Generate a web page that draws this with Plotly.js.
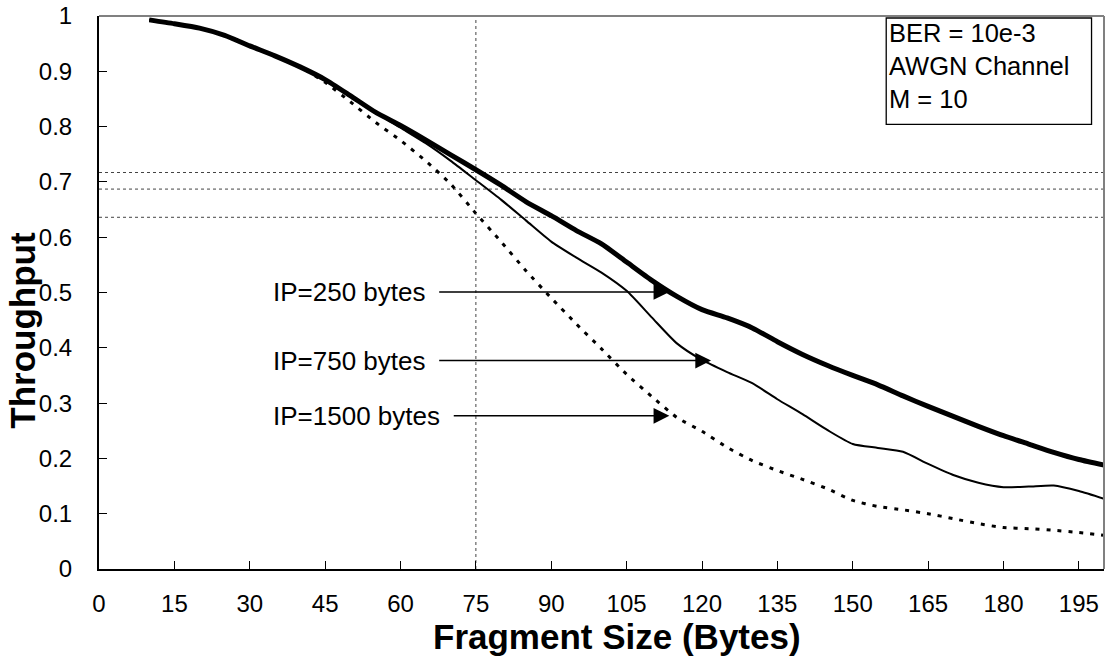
<!DOCTYPE html>
<html>
<head>
<meta charset="utf-8">
<script src="https://cdn.plot.ly/plotly-3.0.1.min.js"></script>
<style>html,body{margin:0;padding:0;background:#fff}#chart{width:1107px;height:659px}</style>
</head>
<body>
<div id="chart"></div>
<script>
// Fragment size (bytes)
const fragmentSize = [10,15,20,25,30,35,40,45,50,55,60,65,70,75,80,85,90,95,100,105,110,115,120,125,130,135,140,145,150,155,160,165,170,175,180,185,190,195,200];
// Throughput for IP = 250 bytes
const ip250 = [0.993,0.986,0.978,0.965,0.946,0.928,0.908,0.885,0.856,0.826,0.802,0.776,0.749,0.722,0.694,0.664,0.639,0.612,0.588,0.555,0.522,0.493,0.469,0.454,0.436,0.411,0.388,0.368,0.350,0.333,0.313,0.294,0.276,0.258,0.241,0.226,0.211,0.198,0.188];
// Throughput for IP = 750 bytes
const ip750 = [0.993,0.986,0.978,0.965,0.946,0.928,0.908,0.885,0.856,0.826,0.798,0.770,0.738,0.703,0.668,0.630,0.592,0.563,0.536,0.503,0.455,0.408,0.378,0.356,0.336,0.307,0.280,0.251,0.226,0.219,0.212,0.190,0.170,0.156,0.148,0.149,0.151,0.141,0.127];
// Throughput for IP = 1500 bytes
const ip1500 = [0.993,0.986,0.978,0.965,0.946,0.928,0.908,0.880,0.845,0.808,0.775,0.738,0.696,0.643,0.592,0.539,0.490,0.443,0.398,0.352,0.312,0.274,0.249,0.220,0.196,0.178,0.162,0.145,0.124,0.113,0.107,0.100,0.091,0.082,0.075,0.073,0.070,0.066,0.061];

const xTicks = [0,15,30,45,60,75,90,105,120,135,150,165,180,195];
const seriesLabels = ["IP=250 bytes","IP=750 bytes","IP=1500 bytes"];
const infoLines = ["BER = 10e-3","AWGN Channel","M = 10"];
const refX = 75;
const refY = [0.717, 0.687, 0.636];

const FONT = "Liberation Sans, Arial, sans-serif";

const traces = [
  {x: fragmentSize, y: ip1500, mode: "lines", name: seriesLabels[2],
   line: {color: "#000", width: 3, dash: "4px,7px", shape: "spline", smoothing: 0.6}},
  {x: fragmentSize, y: ip750, mode: "lines", name: seriesLabels[1],
   line: {color: "#000", width: 2, shape: "spline", smoothing: 0.6}},
  {x: fragmentSize, y: ip250, mode: "lines", name: seriesLabels[0],
   line: {color: "#000", width: 5, shape: "spline", smoothing: 0.6}}
];

const shapes = [
  {type: "line", xref: "x", yref: "paper", x0: refX, x1: refX, y0: 0, y1: 1,
   line: {color: "#444", width: 1, dash: "dot"}, layer: "below"}
];
refY.forEach(v => shapes.push({type: "line", xref: "paper", yref: "y", x0: 0, x1: 1, y0: v, y1: v,
   line: {color: "#444", width: 1, dash: "dot"}, layer: "below"}));
// top and right gray frame
shapes.push({type: "line", xref: "paper", yref: "paper", x0: 0, x1: 1, y0: 1, y1: 1, line: {color: "#808080", width: 2}});
shapes.push({type: "line", xref: "paper", yref: "paper", x0: 1, x1: 1, y0: 0, y1: 1, line: {color: "#808080", width: 2}});
// info box
shapes.push({type: "rect", xref: "paper", yref: "paper", x0: 0.7833, x1: 0.9876, y0: 0.8042, y1: 0.9964,
  line: {color: "#000", width: 1.3}, fillcolor: "#fff"});

const arrowSpecs = [
  {tip: [113.5, 0.501], tail: [67.4, 0.501]},
  {tip: [121.8, 0.377], tail: [67.4, 0.377]},
  {tip: [113.5, 0.277], tail: [70.3, 0.277]}
];

const annotations = [];
arrowSpecs.forEach((a, i) => {
  annotations.push({x: a.tip[0], y: a.tip[1], ax: a.tail[0], ay: a.tail[1], axref: "x", ayref: "y",
    xref: "x", yref: "y", text: "", showarrow: true, arrowhead: 2, arrowsize: 2.1, arrowwidth: 1.5,
    arrowcolor: "#000", standoff: 0, startstandoff: 0});
  annotations.push({x: a.tail[0], y: a.tail[1], xref: "x", yref: "y", xshift: -10, text: seriesLabels[i],
    showarrow: false, xanchor: "right", yanchor: "middle", font: {family: FONT, size: 26, color: "#000"}});
});
annotations.push({xref: "paper", yref: "paper", x: 0.7846, y: 0.9964,
  xanchor: "left", yanchor: "top", text: infoLines.join("<br>"), align: "left", showarrow: false,
  borderpad: 0, font: {family: FONT, size: 25.5, color: "#000"}});
annotations.push({xref: "paper", yref: "paper", x: -0.077, y: 0.432, xanchor: "center", yanchor: "middle",
  text: "<b>Throughput</b>", textangle: -90, showarrow: false,
  font: {family: FONT, size: 35, color: "#000"}});
annotations.push({xref: "paper", yref: "paper", x: 0.515, y: -0.1217, xanchor: "center", yanchor: "middle",
  text: "<b>Fragment Size (Bytes)</b>", showarrow: false,
  font: {family: FONT, size: 35, color: "#000"}});

const layout = {
  width: 1107, height: 659,
  margin: {l: 99, r: 3, t: 16, b: 90, pad: 0},
  paper_bgcolor: "#fff", plot_bgcolor: "#fff",
  showlegend: false,
  font: {family: FONT, size: 24, color: "#000"},
  xaxis: {range: [0, 200], tickvals: xTicks, ticks: "inside", ticklen: 8, tickwidth: 1, tickcolor: "#000",
    showgrid: false, zeroline: false, showline: true, linecolor: "#000", linewidth: 2,
    ticklabelstandoff: 12, tickfont: {family: FONT, size: 24, color: "#000"}},
  yaxis: {range: [0, 1], dtick: 0.1, tick0: 0, ticks: "inside", ticklen: 8, tickwidth: 1, tickcolor: "#000",
    showgrid: false, zeroline: false, showline: true, linecolor: "#000", linewidth: 2,
    ticklabelstandoff: 20, tickfont: {family: FONT, size: 24, color: "#000"}},
  shapes: shapes,
  annotations: annotations
};

Plotly.newPlot("chart", traces, layout, {displayModeBar: false, staticPlot: true});
</script>
</body>
</html>
